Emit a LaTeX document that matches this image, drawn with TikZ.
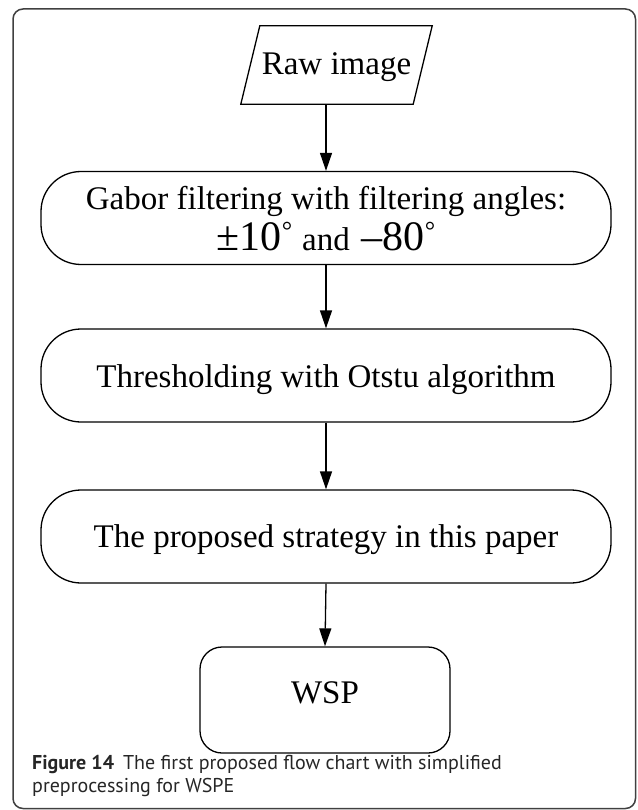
\documentclass[tikz,border=0pt]{standalone}
\usepackage{fontspec}
\setmainfont{Liberation Serif}
\newfontfamily\capfont{PT Sans}
\usetikzlibrary{arrows.meta,calc}
\newcommand{\degsym}{{\fontsize{26}{26}\selectfont\raisebox{11pt}{°}}}
\begin{document}
\begin{tikzpicture}[x=1pt,y=-1pt,
  stadium/.style={draw, line width=1.3pt, rounded corners=40pt, minimum width=570pt, minimum height=93pt, inner sep=0pt},
  txt/.style={anchor=base, inner sep=0pt, font=\fontsize{33}{40}\selectfont},
  flow/.style={line width=1.3pt, -{Triangle[length=18pt,width=12pt]}},
  captxt/.style={anchor=base west, inner sep=0pt, font=\capfont\fontsize{20}{24}\selectfont, text=black!85}
]
\useasboundingbox (0,0) rectangle (637,810);
\draw[line width=1.5pt, draw=black!75, rounded corners=10pt] (13,9) rectangle (635.5,808.5);

% Raw image (parallelogram)
\node[minimum width=191pt, minimum height=78pt, inner sep=0pt] (raw) at (336.5,65) {};
\draw[line width=1.3pt] ($(raw.north west)+(19,0)$) -- (raw.north east) -- ($(raw.south east)+(-19,0)$) -- (raw.south west) -- cycle;
\node[txt] (rawt) at (336.5,75) {Raw image};

% Gabor
\node[stadium] (gabor) at (326,218) {};
\node[txt] (gabt1) at (326,210) {Gabor filtering with filtering angles:};
\node[txt] (gabt2) at (326,251) {{\fontsize{42}{42}\selectfont ±10}\degsym\hspace{10pt}and\hspace{12pt}{\fontsize{42}{42}\selectfont –80}\degsym};

% Thresholding
\node[stadium] (thr) at (326,375.5) {};
\node[txt] (thrt) at (326,387) {Thresholding with Otstu algorithm};

% Proposed
\node[stadium] (prop) at (326,536.5) {};
\node[txt] (propt) at (326,547) {The proposed strategy in this paper};

% WSP
\node[draw, line width=1.3pt, rounded corners=22pt, minimum width=250pt, minimum height=106pt, inner sep=0pt] (wsp) at (325,700) {};
\node[txt] (wspt) at (325,703) {WSP};

% arrows
\draw[flow] (gabor.north |- raw.south) -- (gabor.north);
\draw[flow] (gabor.south) -- (thr.north);
\draw[flow] (thr.south) -- (prop.north);
\draw[flow] (prop.south) -- (wsp.north);

% caption
\node[captxt] (cap1) at (32,769) {\textbf{Figure 14}\hspace{9pt}The first proposed flow chart with simplified};
\node[captxt] (cap2) at (32,792) {preprocessing for WSPE};
\end{tikzpicture}
\end{document}
